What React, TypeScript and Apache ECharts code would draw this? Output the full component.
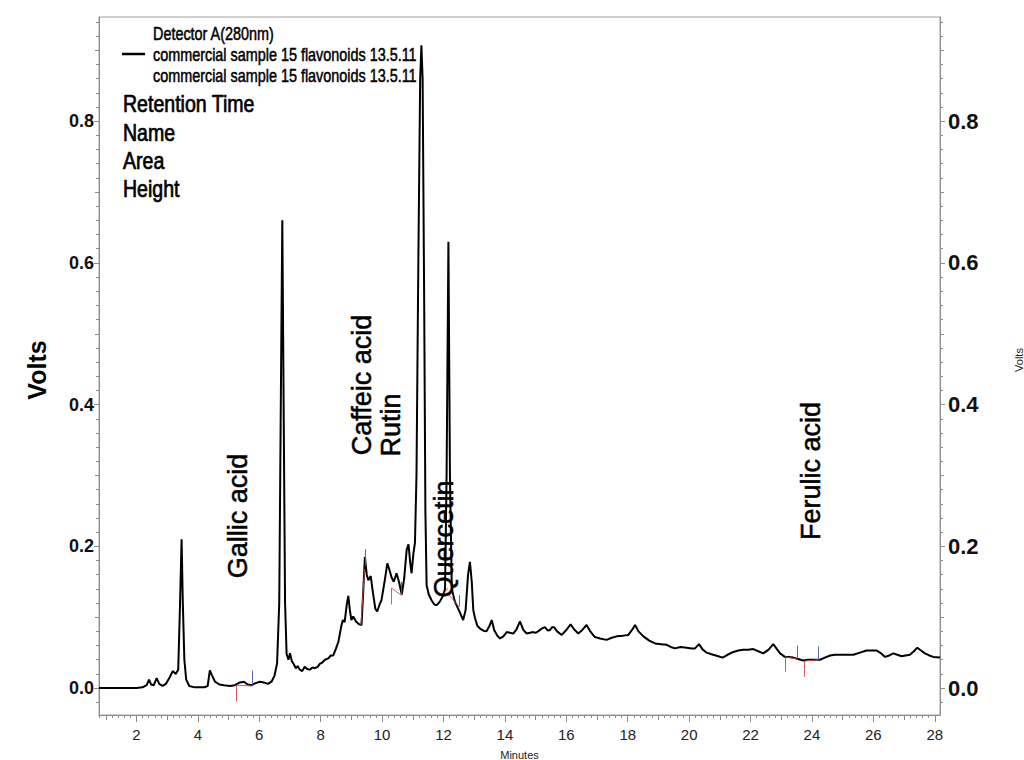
import React, { useEffect, useRef } from "react";
import * as echarts from "echarts";

// Chromatogram trace: retention time (minutes) and detector response (volts)
const retentionMinutes = [
  0.78, 1.5, 2.0, 2.2, 2.33, 2.41, 2.48, 2.56, 2.66, 2.74, 2.85, 2.96, 3.08, 3.18, 3.28, 3.36,
  3.42, 3.47, 3.51, 3.56, 3.62, 3.72, 3.9, 4.2, 4.32, 4.39, 4.46, 4.56, 4.7, 4.85, 5.05, 5.2,
  5.37, 5.5, 5.62, 5.75, 5.88, 6.02, 6.15, 6.28, 6.4, 6.5, 6.58, 6.65, 6.71, 6.75, 6.79, 6.84,
  6.89, 6.95, 7.0, 7.06, 7.12, 7.19, 7.25, 7.32, 7.4, 7.48, 7.56, 7.65, 7.73, 7.81, 7.9, 7.97,
  8.05, 8.14, 8.25, 8.33, 8.41, 8.5, 8.58, 8.66, 8.72, 8.78, 8.85, 8.9, 8.95, 9.0, 9.06, 9.15,
  9.25, 9.33, 9.39, 9.44, 9.5, 9.55, 9.63, 9.7, 9.78, 9.84, 9.92, 9.98, 10.08, 10.17, 10.23,
  10.31, 10.38, 10.47, 10.55, 10.64, 10.72, 10.8, 10.86, 10.92, 10.96, 11.02, 11.07, 11.12,
  11.18, 11.24, 11.28, 11.32, 11.37, 11.41, 11.45, 11.52, 11.61, 11.7, 11.78, 11.88, 11.98,
  12.05, 12.1, 12.16, 12.21, 12.27, 12.37, 12.5, 12.64, 12.72, 12.8, 12.86, 12.92, 12.97,
  13.02, 13.1, 13.19, 13.3, 13.4, 13.5, 13.57, 13.65, 13.75, 13.84, 13.95, 14.06, 14.16,
  14.27, 14.38, 14.49, 14.6, 14.71, 14.82, 14.92, 15.0, 15.08, 15.2, 15.3, 15.4, 15.47, 15.54,
  15.6, 15.7, 15.85, 16.0, 16.14, 16.25, 16.39, 16.52, 16.66, 16.78, 16.93, 17.1, 17.31,
  17.48, 17.64, 17.85, 18.02, 18.14, 18.24, 18.35, 18.51, 18.7, 18.89, 19.08, 19.27, 19.4,
  19.54, 19.72, 19.92, 20.08, 20.19, 20.32, 20.45, 20.57, 20.78, 20.95, 21.09, 21.25, 21.44,
  21.6, 21.76, 21.92, 22.09, 22.25, 22.41, 22.58, 22.74, 22.86, 22.96, 23.12, 23.25, 23.39,
  23.55, 23.71, 23.88, 24.04, 24.26, 24.42, 24.59, 24.75, 24.91, 25.13, 25.35, 25.56, 25.78,
  25.95, 26.11, 26.25, 26.38, 26.52, 26.65, 26.78, 26.92, 27.05, 27.19, 27.32, 27.43, 27.55,
  27.68, 27.82, 27.95, 28.17,
];

const detectorVolts = [
  0.0, 0.0, 0.0, 0.001, 0.004, 0.012, 0.005, 0.004, 0.014, 0.006, 0.003, 0.006, 0.015, 0.024,
  0.02, 0.026, 0.12, 0.21, 0.12, 0.04, 0.012, 0.003, 0.001, 0.001, 0.003, 0.025, 0.018, 0.009,
  0.005, 0.004, 0.003, 0.004, 0.008, 0.009, 0.005, 0.004, 0.007, 0.009, 0.008, 0.006, 0.009,
  0.018, 0.035, 0.12, 0.45, 0.66, 0.42, 0.12, 0.048, 0.04, 0.049, 0.038, 0.034, 0.028, 0.031,
  0.026, 0.024, 0.03, 0.027, 0.026, 0.029, 0.028, 0.03, 0.034, 0.036, 0.04, 0.042, 0.046,
  0.046, 0.056, 0.066, 0.085, 0.096, 0.093, 0.118, 0.13, 0.11, 0.096, 0.101, 0.094, 0.09,
  0.089, 0.14, 0.185, 0.16, 0.152, 0.158, 0.135, 0.112, 0.108, 0.118, 0.124, 0.15, 0.176,
  0.168, 0.156, 0.15, 0.162, 0.15, 0.132, 0.155, 0.195, 0.203, 0.175, 0.162, 0.19, 0.205, 0.3,
  0.6, 0.86, 0.907, 0.86, 0.55, 0.25, 0.145, 0.132, 0.124, 0.118, 0.117, 0.122, 0.13, 0.14,
  0.3, 0.63, 0.3, 0.14, 0.122, 0.11, 0.096, 0.11, 0.16, 0.178, 0.15, 0.11, 0.1, 0.088, 0.084,
  0.081, 0.08, 0.088, 0.096, 0.082, 0.074, 0.07, 0.073, 0.079, 0.078, 0.077, 0.083, 0.094,
  0.082, 0.077, 0.078, 0.079, 0.078, 0.08, 0.084, 0.086, 0.081, 0.082, 0.086, 0.086, 0.08,
  0.075, 0.082, 0.09, 0.083, 0.077, 0.082, 0.089, 0.08, 0.072, 0.07, 0.068, 0.071, 0.073,
  0.074, 0.075, 0.082, 0.089, 0.08, 0.073, 0.067, 0.063, 0.062, 0.061, 0.058, 0.056, 0.058,
  0.057, 0.056, 0.056, 0.062, 0.054, 0.05, 0.047, 0.045, 0.043, 0.047, 0.051, 0.053, 0.054,
  0.054, 0.055, 0.052, 0.049, 0.054, 0.062, 0.055, 0.049, 0.044, 0.044, 0.043, 0.041, 0.039,
  0.04, 0.04, 0.04, 0.043, 0.046, 0.047, 0.047, 0.047, 0.047, 0.05, 0.053, 0.053, 0.053,
  0.049, 0.044, 0.046, 0.049, 0.047, 0.045, 0.046, 0.047, 0.052, 0.057, 0.053, 0.049, 0.046,
  0.044, 0.043,
];

// Integration marks: [t1, v1, t2, v2]
const peakStartMarks = [
  [5.26, 0.004, 5.26, -0.019],
  [5.26, 0.004, 5.77, 0.003],
  [9.31, 0.089, 9.43, 0.168],
  [10.31, 0.141, 10.31, 0.118],
  [10.31, 0.141, 10.62, 0.131],
  [11.98, 0.131, 12.14, 0.141],
  [12.15, 0.133, 12.5, 0.115],
  [23.13, 0.044, 23.13, 0.023],
  [23.13, 0.044, 23.53, 0.041],
  [23.74, 0.038, 23.74, 0.016],
  [23.74, 0.038, 24.22, 0.04],
];
const peakEndMarks = [
  [5.77, 0.004, 5.77, 0.025],
  [9.46, 0.172, 9.46, 0.196],
  [10.62, 0.131, 10.62, 0.15],
  [12.5, 0.115, 12.5, 0.131],
  [23.53, 0.043, 23.53, 0.06],
  [24.22, 0.04, 24.22, 0.059],
];

const xTickLabels = [2, 4, 6, 8, 10, 12, 14, 16, 18, 20, 22, 24, 26, 28];
const yTickLabels = [0, 0.2, 0.4, 0.6, 0.8];

const peakNames = ["Gallic acid", "Caffeic acid", "Rutin", "Quercetin", "Ferulic acid"];
const legendHeader = "Detector A(280nm)";
const sampleName = "commercial sample 15 flavonoids 13.5.11";
const reportFields = ["Retention Time", "Name", "Area", "Height"];

const FONT = "'Liberation Sans', Arial, sans-serif";

// Pixel placement of the vertical peak annotations
const peakLabelLayout = [
  { x: 238, y: 516 },
  { x: 362, y: 385 },
  { x: 391, y: 425 },
  { x: 444, y: 539 },
  { x: 811, y: 471 },
];

export default function App() {
  const ref = useRef<HTMLDivElement>(null);

  useEffect(() => {
    const el = ref.current;
    if (!el) return;
    const chart = echarts.init(el, null, { renderer: "svg" });

    const xMin = 0.78;
    const xMax = 28.17;
    const yMin = -0.038;
    const yMax = 0.947;

    const xFine: number[] = [];
    for (let k = 4; k <= 140; k++) xFine.push(Math.round(k * 2) / 10);
    const xOdd: number[] = [];
    for (let k = 1; k <= 27; k += 2) xOdd.push(k);
    const yFine: number[] = [];
    for (let k = -1; k <= 47; k++) yFine.push(Math.round(k * 2) / 100);
    const yMid = [0.1, 0.3, 0.5, 0.7, 0.9];

    const axisGray = "#8c8c8c";

    const xTickAxis = (values: number[], len: number) => ({
      type: "value",
      min: xMin,
      max: xMax,
      gridIndex: 0,
      position: "bottom",
      splitLine: { show: false },
      axisLine: { show: false, onZero: false },
      axisLabel: { show: false },
      axisTick: {
        show: true,
        length: len,
        customValues: values,
        lineStyle: { color: axisGray, width: 1 },
      },
    });

    const yTickAxis = (pos: string, values: number[], len: number) => ({
      type: "value",
      min: yMin,
      max: yMax,
      gridIndex: 0,
      position: pos,
      splitLine: { show: false },
      axisLine: { show: false, onZero: false },
      axisLabel: { show: false },
      axisTick: {
        show: true,
        length: len,
        customValues: values,
        lineStyle: { color: axisGray, width: 1 },
      },
    });

    const segData = (segs: number[][]) =>
      segs.map((s) => ({ coords: [[s[0], s[1]], [s[2], s[3]]] }));

    const texts: any[] = [];
    texts.push({
      type: "line",
      shape: { x1: 122, y1: 54, x2: 145, y2: 54 },
      style: { stroke: "#000", lineWidth: 2.5 },
    });
    const smallLines = [legendHeader, sampleName, sampleName];
    const smallY = [33, 54, 75];
    smallLines.forEach((t, i) => {
      texts.push({
        type: "text",
        x: 153,
        y: smallY[i],
        scaleX: 0.8,
        style: {
          text: t,
          fill: "#000",
          stroke: "#000",
          lineWidth: 0.5,
          font: `18px ${FONT}`,
          textAlign: "left",
          textVerticalAlign: "middle",
        },
      });
    });
    const fieldY = [104, 133, 161, 189];
    reportFields.forEach((t, i) => {
      texts.push({
        type: "text",
        x: 123,
        y: fieldY[i],
        scaleX: 0.85,
        style: {
          text: t,
          fill: "#000",
          stroke: "#000",
          lineWidth: 0.7,
          font: `23px ${FONT}`,
          textAlign: "left",
          textVerticalAlign: "middle",
        },
      });
    });
    peakNames.forEach((t, i) => {
      texts.push({
        type: "text",
        x: peakLabelLayout[i].x,
        y: peakLabelLayout[i].y,
        rotation: Math.PI / 2,
        z: 10,
        style: {
          text: t,
          fill: "#000",
          stroke: "#000",
          lineWidth: 0.5,
          font: `27px ${FONT}`,
          textAlign: "center",
          textVerticalAlign: "middle",
        },
      });
    });
    texts.push({
      type: "text",
      x: 37,
      y: 370,
      rotation: Math.PI / 2,
      style: {
        text: "Volts",
        fill: "#000",
        font: `bold 25px ${FONT}`,
        textAlign: "center",
        textVerticalAlign: "middle",
      },
    });
    texts.push({
      type: "text",
      x: 1019,
      y: 360,
      rotation: Math.PI / 2,
      style: {
        text: "Volts",
        fill: "#222",
        font: `11px ${FONT}`,
        textAlign: "center",
        textVerticalAlign: "middle",
      },
    });

    chart.setOption({
      animation: false,
      backgroundColor: "#fff",
      grid: {
        left: 99,
        right: 84,
        top: 17,
        bottom: 45,
        show: true,
        borderColor: "#a0a0a0",
        borderWidth: 1,
        backgroundColor: "transparent",
        outerBoundsMode: "none",
      },
      xAxis: [
        {
          type: "value",
          min: xMin,
          max: xMax,
          gridIndex: 0,
          position: "bottom",
          name: "Minutes",
          nameLocation: "middle",
          nameGap: 34,
          nameTextStyle: { fontSize: 11, color: "#222", fontFamily: FONT },
          splitLine: { show: false },
          axisLine: { show: true, onZero: false, lineStyle: { color: axisGray, width: 1 } },
          axisTick: {
            show: true,
            length: 7,
            customValues: xTickLabels,
            lineStyle: { color: axisGray, width: 1 },
          },
          axisLabel: {
            customValues: xTickLabels,
            margin: 12,
            fontSize: 15,
            color: "#222",
            fontFamily: FONT,
          },
        },
        xTickAxis(xOdd, 5),
        xTickAxis(xFine, 3),
      ],
      yAxis: [
        {
          type: "value",
          min: yMin,
          max: yMax,
          gridIndex: 0,
          position: "left",
          splitLine: { show: false },
          axisLine: { show: true, onZero: false, lineStyle: { color: axisGray, width: 1 } },
          axisTick: {
            show: true,
            length: 5,
            customValues: yTickLabels,
            lineStyle: { color: axisGray, width: 1 },
          },
          axisLabel: {
            customValues: yTickLabels,
            margin: 5,
            fontSize: 18,
            fontWeight: "bold",
            color: "#111",
            fontFamily: FONT,
            formatter: (v: number) => v.toFixed(1),
          },
        },
        yTickAxis("left", yFine, 3),
        yTickAxis("left", yMid, 4),
        {
          type: "value",
          min: yMin,
          max: yMax,
          gridIndex: 0,
          position: "right",
          splitLine: { show: false },
          axisLine: { show: true, onZero: false, lineStyle: { color: axisGray, width: 1 } },
          axisTick: {
            show: true,
            length: 5,
            customValues: yTickLabels,
            lineStyle: { color: axisGray, width: 1 },
          },
          axisLabel: {
            customValues: yTickLabels,
            margin: 8,
            fontSize: 22,
            fontWeight: "bold",
            color: "#111",
            fontFamily: FONT,
            formatter: (v: number) => v.toFixed(1),
          },
        },
        yTickAxis("right", yFine, 3),
        yTickAxis("right", yMid, 4),
      ],
      series: [
        {
          type: "line",
          name: sampleName,
          xAxisIndex: 0,
          yAxisIndex: 0,
          data: retentionMinutes.map((t, i) => [t, detectorVolts[i]]),
          symbol: "none",
          lineStyle: { color: "#000", width: 2 },
          z: 3,
        },
        {
          type: "lines",
          coordinateSystem: "cartesian2d",
          xAxisIndex: 0,
          yAxisIndex: 0,
          data: segData(peakStartMarks),
          lineStyle: { color: "#d24a4a", width: 1, opacity: 0.9 },
          z: 4,
        },
        {
          type: "lines",
          coordinateSystem: "cartesian2d",
          xAxisIndex: 0,
          yAxisIndex: 0,
          data: segData(peakEndMarks),
          lineStyle: { color: "#4a55a8", width: 1, opacity: 0.9 },
          z: 4,
        },
      ],
      graphic: { elements: texts },
    });

    return () => chart.dispose();
  }, []);

  return (
    <div
      ref={ref}
      style={{ position: "absolute", left: 0, top: 0, width: 1024, height: 760 }}
    />
  );
}
